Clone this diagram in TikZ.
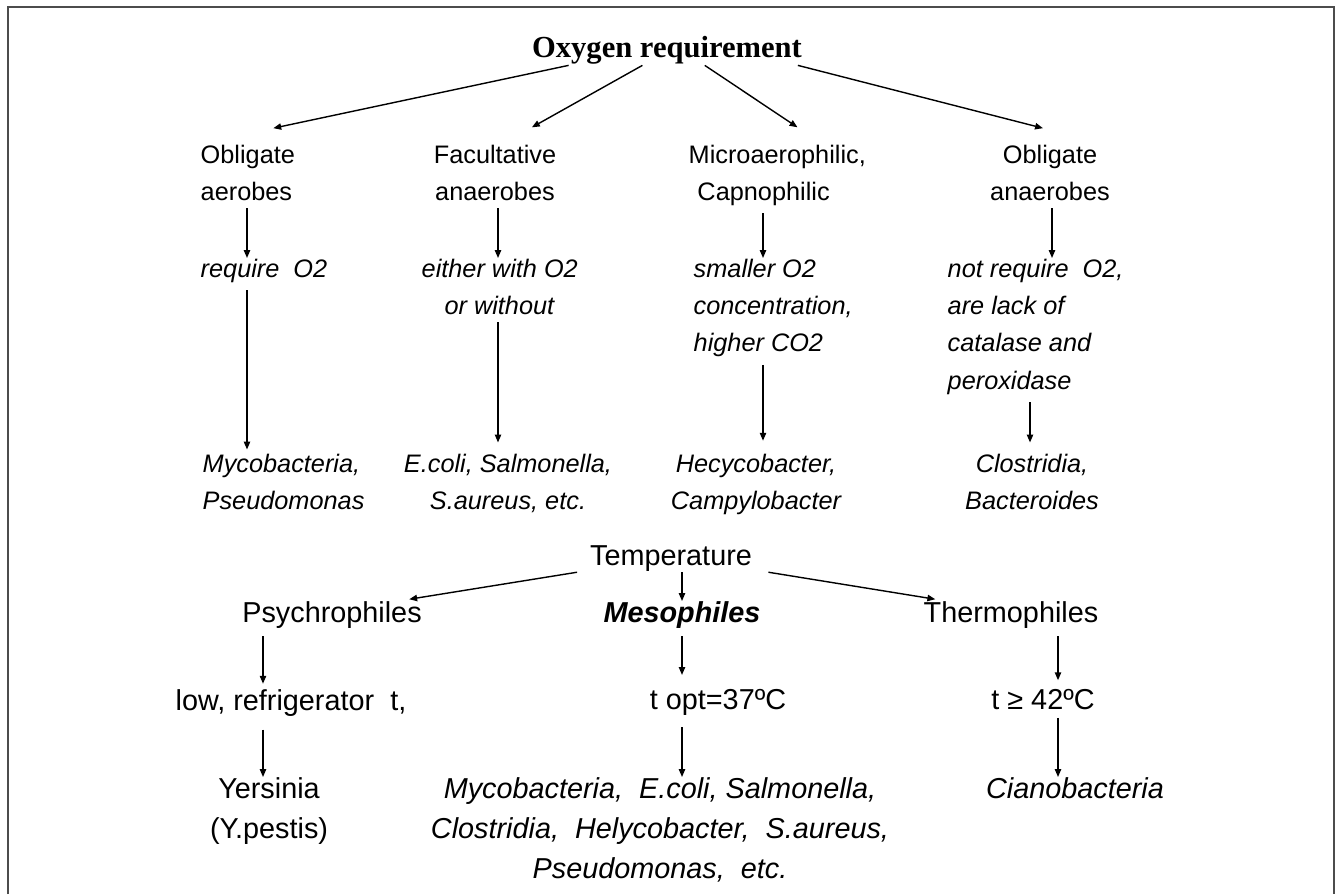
\documentclass[tikz,border=0pt]{standalone}
\usepackage{fontspec}
\setmainfont{Liberation Sans}
\newfontfamily\headfont{Liberation Serif}
\usepackage{tikz}
\usetikzlibrary{arrows.meta}
\usetikzlibrary{calc}

\begin{document}
\begin{tikzpicture}[x=0.02cm, y=-0.02cm, thick,
    main/.style = {inner sep=0pt, anchor=north, align=center, font=\fontsize{14.4}{21.3}\selectfont},
    note/.style = {main, font=\fontsize{14.4}{21.3}\selectfont\itshape},
    tmain/.style = {inner sep=0pt, anchor=north, align=center, font=\fontsize{16.4}{22.8}\selectfont},
    tnote/.style = {tmain, font=\fontsize{16.4}{22.8}\selectfont\itshape},
    arr/.style = {-{Triangle[length=4.5pt,width=3.6pt]}, shorten <=4pt},
    frame/.style = {draw=black!70, line width=0.9pt}]
    \useasboundingbox (0,0) rectangle (1338,894);
    \draw [frame] (8,894) -- (8,7) -- (1334,7) -- (1334,894);

    % oxygen requirement
    \node [inner sep=0pt, anchor=north, font=\headfont\bfseries\fontsize{17.4}{20}\selectfont] (0) at (667, 36) {Oxygen requirement};

    \node [main, anchor=north west, align=left] (1) at (200, 144) {Obligate\\aerobes};
    \node [main] (2) at (495, 144) {Facultative\\anaerobes};
    \node [main, anchor=north west, align=left] (3) at (688, 144) {Microaerophilic,\\\hspace*{5pt}Capnophilic};
    \node [main] (4) at (1050, 144) {Obligate\\anaerobes};

    \node [note, anchor=north west, align=left] (5) at (200, 258) {require~~O2};
    \node [note, anchor=north west, align=left] (6) at (421, 258) {either with O2\\\hspace*{13pt}or without};
    \node [note, anchor=north west, align=left] (7) at (693, 258) {smaller O2\\concentration,\\higher CO2};
    \node [note, anchor=north west, align=left] (8) at (947, 258) {not require~~O2,\\are lack of\\catalase and\\peroxidase};

    \node [note, anchor=north west, align=left] (9) at (202, 453) {Mycobacteria,\\Pseudomonas};
    \node [note] (10) at (508, 453) {E.coli, Salmonella,\\S.aureus, etc.};
    \node [note] (11) at (756, 453) {Hecycobacter,\\Campylobacter};
    \node [note] (12) at (1032, 453) {Clostridia,\\Bacteroides};

    % temperature
    \node [tmain] (13) at (671, 545) {Temperature};
    \node [tmain] (14) at (332, 601) {Psychrophiles};
    \node [tmain] (15) at (682, 601) {\bfseries\itshape Mesophiles};
    \node [tmain] (16) at (1011, 601) {Thermophiles};
    \node [tmain] (17) at (291, 689) {low, refrigerator~~t,};
    \node [tmain] (18) at (718, 689) {t opt=37ºC};
    \node [tmain] (19) at (1043, 689) {t ≥ 42ºC};
    \node [tmain] (20) at (269, 777) {Yersinia\\(Y.pestis)};
    \node [tnote] (21) at (660, 777) {Mycobacteria,~~E.coli, Salmonella,\\Clostridia,~~Helycobacter,~~S.aureus,\\Pseudomonas,~~etc.};
    \node [tnote] (22) at (1075, 777) {Cianobacteria};

    % columns of the down arrows
    \coordinate (c1) at (247, 0);
    \coordinate (c2) at (498, 0);
    \coordinate (c3) at (763, 0);
    \coordinate (c4) at (1052, 0);
    \coordinate (c5) at (1030, 0);
    \coordinate (c6) at (263, 0);
    \coordinate (c7) at (682, 0);
    \coordinate (c8) at (1058, 0);

    \draw [arr, shorten <=0pt] ([xshift=-56pt]0.south) to ([xshift=14.5pt, yshift=9pt]1.north);
    \draw [arr, shorten <=0pt] ([xshift=-14pt]0.south) to ([xshift=21pt, yshift=9.5pt]2.north);
    \draw [arr, shorten <=0pt] ([xshift=21.5pt]0.south) to ([xshift=11.5pt, yshift=9.5pt]3.north);
    \draw [arr, shorten <=0pt] ([xshift=74.5pt]0.south) to ([xshift=-4pt, yshift=9pt]4.north);

    \draw [arr] (1.south -| c1) to (5.north -| c1);
    \draw [arr] (2.south -| c2) to (6.north -| c2);
    \draw [arr] (3.south -| c3) to (7.north -| c3);
    \draw [arr] (4.south -| c4) to (8.north -| c4);

    \draw [arr, shorten >=2pt] (5.south -| c1) to (9.north -| c1);
    \draw [arr, shorten >=6pt] (6.south -| c2) to (10.north -| c2);
    \draw [arr, shorten >=7pt] (7.south -| c3) to (11.north -| c3);
    \draw [arr, shorten >=6pt] (8.south -| c5) to (12.north -| c5);

    \draw [arr, shorten <=0pt] ([xshift=-7pt]13.south west) to ([xshift=-7.5pt, yshift=1pt]14.north east);
    \draw [arr, shorten <=0pt] (13.south -| c7) to (15.north -| c7);
    \draw [arr, shorten <=0pt] ([xshift=9pt]13.south east) to ([xshift=7pt, yshift=1pt]16.north west);

    \draw [arr, shorten >=3pt] (14.south -| c6) to (17.north -| c6);
    \draw [arr, shorten >=8pt] (15.south -| c7) to (18.north -| c7);
    \draw [arr, shorten >=5pt] (16.south -| c8) to (19.north -| c8);

    \draw [arr, shorten <=7pt] (17.south -| c6) to (20.north -| c6);
    \draw [arr, shorten <=6pt] (18.south -| c7) to (21.north -| c7);
    \draw [arr] (19.south -| c8) to (22.north -| c8);

\end{tikzpicture}
\end{document}
